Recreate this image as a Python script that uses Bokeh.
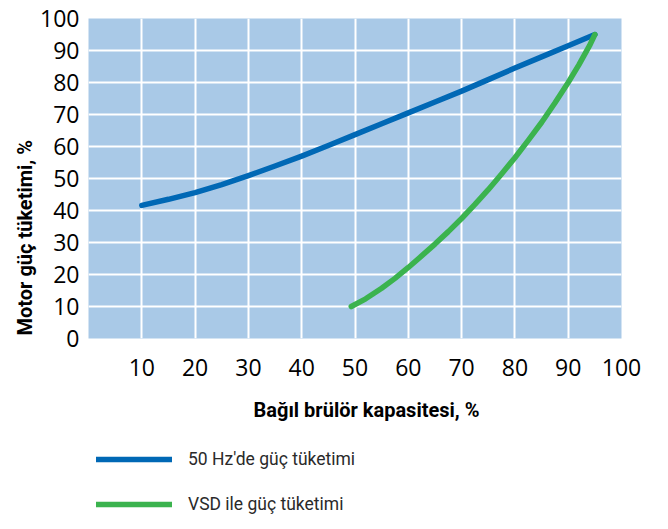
from bokeh.plotting import figure
from bokeh.models import FixedTicker, Legend, LegendItem, Title
from bokeh.layouts import column
from bokeh.embed import file_html
from bokeh.resources import INLINE

# Data
x_ticks = [10, 20, 30, 40, 50, 60, 70, 80, 90, 100]
y_ticks = [0, 10, 20, 30, 40, 50, 60, 70, 80, 90, 100]

hz50_x = [10, 15, 20, 25, 30, 35, 40, 45, 50, 55, 60, 65, 70, 75, 80, 85, 90, 95]
hz50_y = [41.6, 43.5, 45.6, 48.1, 50.9, 53.9, 57.0, 60.3, 63.7, 67.1, 70.5, 73.9, 77.3, 80.9, 84.5, 88.0, 91.5, 95.0]

vsd_x = [49.3, 52, 55, 57.5, 60, 62.5, 65, 67.5, 70, 72.5, 75, 77.5, 80, 82.5, 85, 87.5, 90, 92, 94, 95]
vsd_y = [10.0, 12.4, 15.7, 18.8, 22.2, 25.8, 29.5, 33.4, 37.5, 41.9, 46.5, 51.4, 56.5, 61.9, 67.5, 73.6, 80.0, 85.5, 91.5, 95.0]

label_hz = "50 Hz'de güç tüketimi"
label_vsd = "VSD ile güç tüketimi"
x_title = "Bağıl brülör kapasitesi, %"
y_title = "Motor güç tüketimi, %"

BLUE = "#0068b5"
GREEN = "#3bb34e"
BG = "#a9c9e7"
TITLE_FONT = "Roboto"

p = figure(width=660, height=440, x_range=(0, 100), y_range=(0, 100),
           output_backend="svg", toolbar_location=None,
           min_border_left=88, min_border_top=18, min_border_right=39,
           min_border_bottom=102)
p.background_fill_color = BG
p.outline_line_color = None
p.border_fill_color = "white"

for g in (p.xgrid, p.ygrid):
    g.grid_line_color = "white"
    g.grid_line_width = 2
p.xgrid.ticker = FixedTicker(ticks=[10, 20, 30, 40, 50, 60, 70, 80, 90])
p.ygrid.ticker = FixedTicker(ticks=[10, 20, 30, 40, 50, 60, 70, 80, 90])

p.xaxis.ticker = FixedTicker(ticks=x_ticks)
p.yaxis.ticker = FixedTicker(ticks=y_ticks)
for ax in (p.xaxis, p.yaxis):
    ax.axis_line_color = None
    ax.major_tick_line_color = None
    ax.minor_tick_line_color = None
    ax.major_tick_out = 0
    ax.major_tick_in = 0
    ax.major_label_text_font = "Open Sans"
    ax.major_label_text_font_size = "23px"
    ax.major_label_text_color = "black"
p.xaxis.major_label_standoff = 20
p.yaxis.major_label_standoff = 9

# Axis titles as side titles (allow offsets like the reference)
xt = Title(text=x_title, align="left", offset=165, standoff=34,
           text_font=TITLE_FONT, text_font_style="bold",
           text_font_size="20px", text_color="black")
p.add_layout(xt, "below")
yt = Title(text=y_title, align="left", offset=3, standoff=1,
           text_font=TITLE_FONT, text_font_style="bold",
           text_font_size="20px", text_color="black")
p.add_layout(yt, "left")

p.line(hz50_x, hz50_y, line_color=BLUE, line_width=5.5,
       line_cap="round", line_join="round")
p.line(vsd_x, vsd_y, line_color=GREEN, line_width=5.5,
       line_cap="round", line_join="round")

# Legend panel below the chart (its frame is aligned with the chart frame)
lf = figure(width=660, height=85, x_range=(0, 1), y_range=(0, 1),
            output_backend="svg", toolbar_location=None,
            min_border=0, min_border_left=0, min_border_right=0,
            min_border_top=0, min_border_bottom=0)
lf.axis.visible = False
lf.grid.visible = False
lf.outline_line_color = None
lf.background_fill_color = "white"
lf.border_fill_color = "white"
l1 = lf.line(x=[-5, -4], y=[-5, -5], line_color=BLUE, line_width=5.5, line_cap="round")
l2 = lf.line(x=[-5, -4], y=[-5, -5], line_color=GREEN, line_width=5.5, line_cap="round")

legend = Legend(items=[LegendItem(label=label_hz, renderers=[l1]),
                       LegendItem(label=label_vsd, renderers=[l2])],
                location=(8, 11), orientation="vertical",
                glyph_width=76, glyph_height=20, label_height=20,
                spacing=25, padding=0, margin=0, label_standoff=16,
                label_text_font="Roboto",
                label_text_font_size="17.5px", label_text_color="#2a2a2a",
                background_fill_alpha=0, border_line_color=None)
lf.add_layout(legend, "center")

layout = column(p, lf, spacing=0)
open("out.html", "w").write(file_html(layout, INLINE))
